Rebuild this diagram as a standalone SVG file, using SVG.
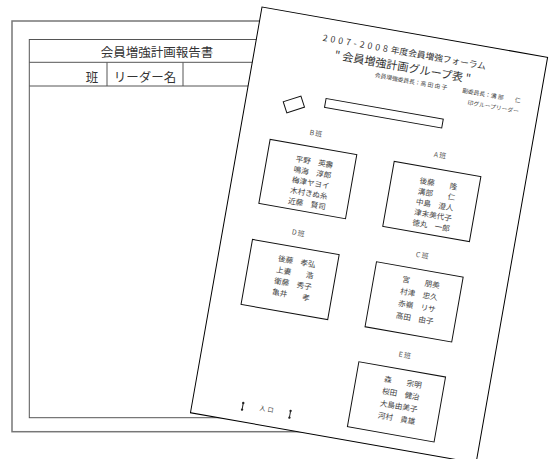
<svg xmlns="http://www.w3.org/2000/svg" width="552" height="459" viewBox="0 0 552 459">
<style>
text{font-family:"Noto Sans CJK JP","Noto Sans",sans-serif;fill:#333}
.tbl{fill:none;stroke:#555;stroke-width:1}
.box{fill:none;stroke:#111;stroke-width:1}
.nm{font-size:7.6px;text-anchor:middle;fill:#444}
.lb{font-size:7px;text-anchor:middle;fill:#555;letter-spacing:1.2px}
.sm{font-size:5.8px;fill:#444}
</style>
<defs>
<g id="door"><line x1="0" y1="-3" x2="0" y2="3" stroke="#222" stroke-width="1"/><circle cx="0" cy="-3.4" r="1.2" fill="#222"/><circle cx="0" cy="3.4" r="1.2" fill="#222"/></g>
</defs>
<rect width="552" height="459" fill="#fff"/>
<g id="report-sheet">
<rect x="12" y="21" width="298" height="410.7" fill="#fff" stroke="#777" stroke-width="1.5"/>
<rect class="tbl" x="29.3" y="39.5" width="261" height="378.2"/>
<line class="tbl" x1="29.3" y1="62.3" x2="290.3" y2="62.3"/>
<line class="tbl" x1="29.3" y1="86" x2="290.3" y2="86"/>
<line class="tbl" x1="107" y1="62.3" x2="107" y2="86"/>
<line class="tbl" x1="183" y1="62.3" x2="183" y2="86"/>
<text x="157" y="56.5" font-size="12.5" text-anchor="middle">会員増強計画報告書</text>
<text x="92" y="81.7" font-size="12.5" text-anchor="middle">班</text>
<text x="145" y="81.7" font-size="12.5" text-anchor="middle">リーダー名</text>
</g>
<g id="group-sheet" transform="translate(262,7) rotate(10)">
<rect width="290" height="412" fill="#fff" stroke="#000" stroke-width="1"/>
<text x="148" y="22.7" font-size="8.8" text-anchor="middle"><tspan letter-spacing="3">2007-2008</tspan>年度会員増強フォーラム</text>
<text x="149" y="38.5" font-size="11.2" text-anchor="middle" fill="#111">" 会員増強計画グループ表 "</text>
<text class="sm" x="123" y="49.5">会員増強委員長：高 田 由 子</text>
<text class="sm" x="271" y="49.5" text-anchor="end">副委員長：溝 部　　仁</text>
<text class="sm" x="271" y="60.3" text-anchor="end" font-size="6.3">印グループリーダー</text>
<rect class="box" x="-9.3" y="-5.8" width="18.6" height="11.6" transform="translate(48.3,90.4) rotate(-28)"/>
<rect class="box" x="79" y="79" width="119" height="9"/>
<g id="team-b">
<text class="lb" x="75.6" y="117.6">B班</text>
<rect class="box" x="31" y="129" width="88" height="65"/>
<text class="nm" x="78.5" y="146.3">平野　英壽</text>
<text class="nm" x="78.5" y="156.9">鳴海　淳郎</text>
<text class="nm" x="78.5" y="167.5">梅津ヤヨイ</text>
<text class="nm" x="78.5" y="178.1">木村きぬ糸</text>
<text class="nm" x="78.5" y="188.7">近藤　賢司</text>
</g>
<g id="team-a">
<text class="lb" x="201.6" y="117.6">A班</text>
<rect class="box" x="157" y="129" width="88" height="66"/>
<text class="nm" x="204.5" y="146.3">後藤　　隆</text>
<text class="nm" x="204.5" y="156.9">溝部　　仁</text>
<text class="nm" x="204.5" y="167.5">中島　澄人</text>
<text class="nm" x="204.5" y="178.1">津末美代子</text>
<text class="nm" x="204.5" y="188.7">徳丸　一郎</text>
</g>
<g id="team-d">
<text class="lb" x="75.6" y="218.8">D班</text>
<rect class="box" x="31" y="230.5" width="88" height="66"/>
<text class="nm" x="78.5" y="247.4">後藤　孝弘</text>
<text class="nm" x="78.5" y="258.7">上妻　　浩</text>
<text class="nm" x="78.5" y="270">衛藤　秀子</text>
<text class="nm" x="78.5" y="281.3">亀井　　孝</text>
</g>
<g id="team-c">
<text class="lb" x="201.6" y="219.4">C班</text>
<rect class="box" x="157" y="231" width="88" height="66"/>
<text class="nm" x="204.5" y="246.3">宮　　朋美</text>
<text class="nm" x="204.5" y="258.5">村津　忠久</text>
<text class="nm" x="204.5" y="270.7">赤嶺　リサ</text>
<text class="nm" x="204.5" y="282.9">高田　由子</text>
</g>
<g id="team-e">
<text class="lb" x="201.6" y="320.6">E班</text>
<rect class="box" x="157" y="332.5" width="88" height="66"/>
<text class="nm" x="204" y="347.6">森　　宗明</text>
<text class="nm" x="204" y="359.9">桜田　健治</text>
<text class="nm" x="204" y="372.2">大島由美子</text>
<text class="nm" x="204" y="384.5">河村　貴雄</text>
</g>
<g id="entrance">
<use href="#door" x="50.3" y="396.6"/>
<text x="75.4" y="397.4" font-size="6" text-anchor="middle" fill="#666" letter-spacing="2">入口</text>
<use href="#door" x="98.3" y="396.2"/>
</g>
</g>
</svg>
